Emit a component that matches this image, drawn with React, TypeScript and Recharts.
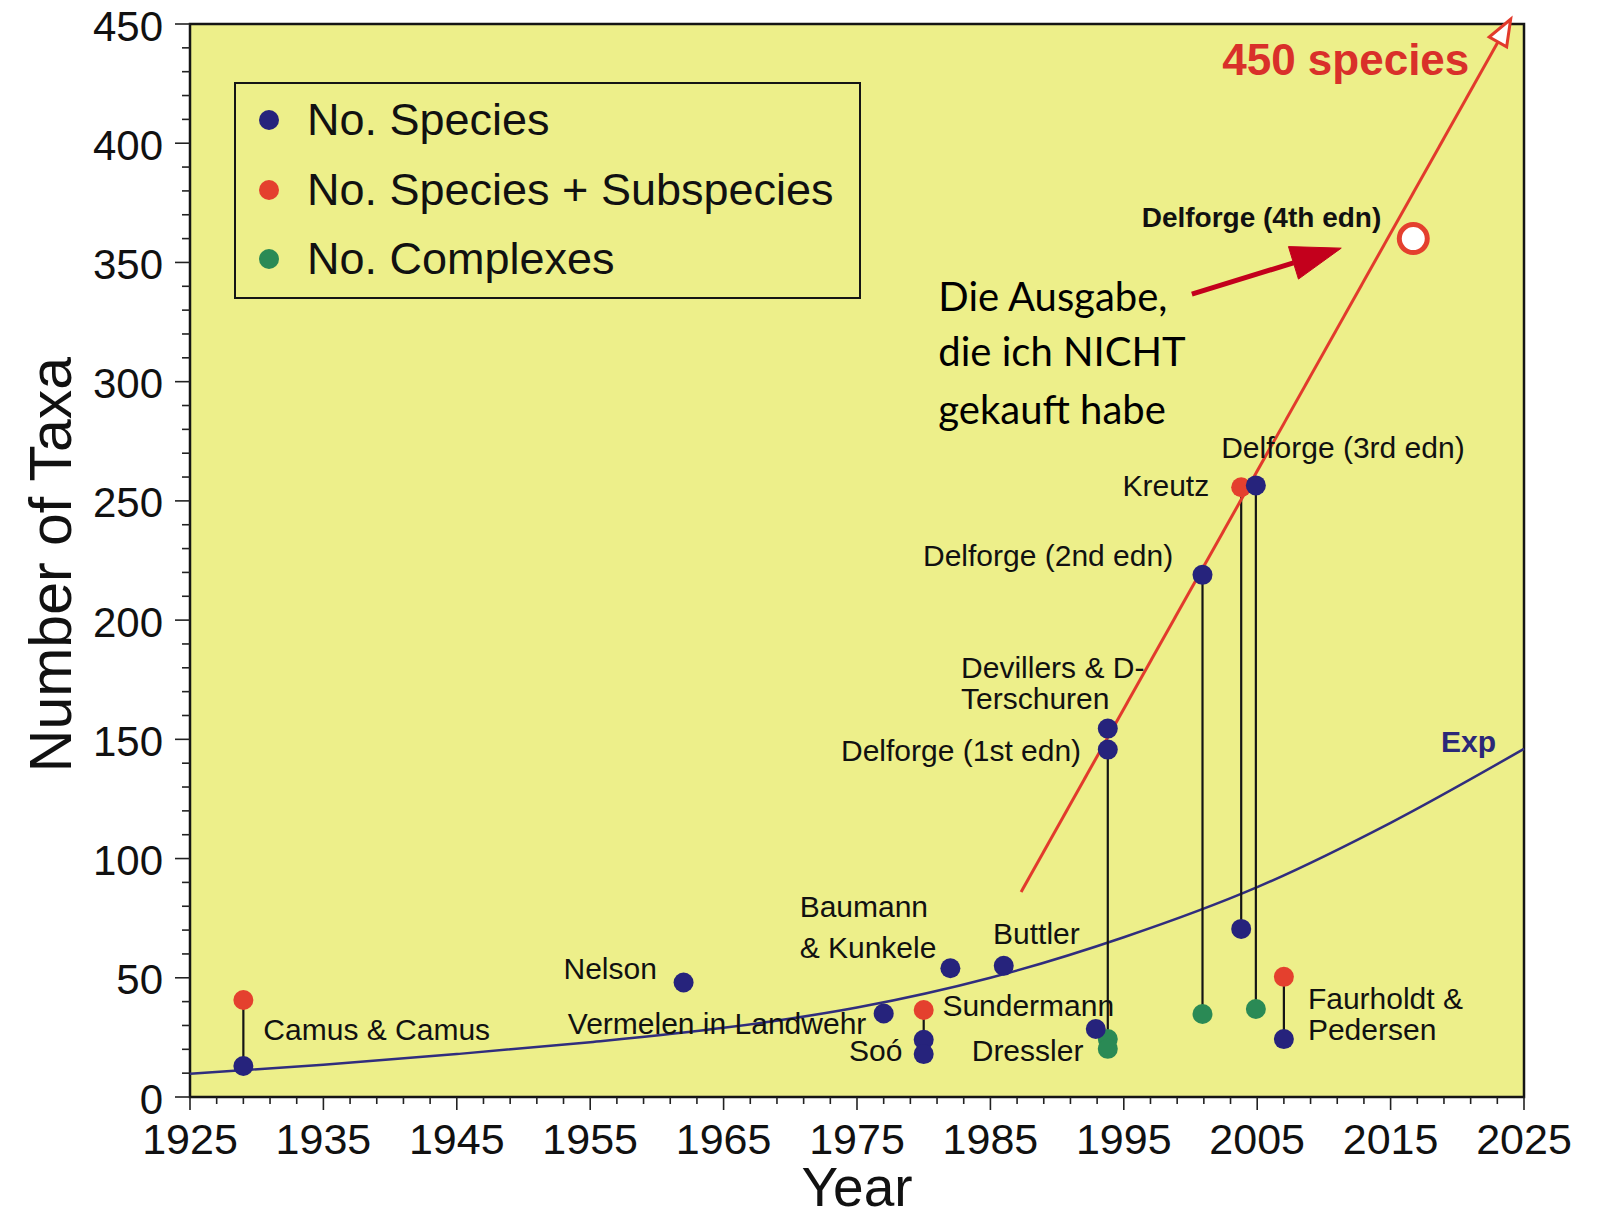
import React from "react";
import {
  ComposedChart,
  XAxis,
  YAxis,
  CartesianGrid,
  Line,
  Scatter,
  ReferenceLine,
  ReferenceArea,
} from "recharts";

type Pt = { year: number; value: number };
type Stem = { year: number; low: number; high: number };
type Note = { text: string; year: number; value: number; anchor: "start" | "end" };

// tick labels
const yearTicks = [1925, 1935, 1945, 1955, 1965, 1975, 1985, 1995, 2005, 2015, 2025];
const taxaTicks = [0, 50, 100, 150, 200, 250, 300, 350, 400, 450];
const yearMinor = Array.from({ length: 51 }, (_, i) => 1925 + i * 2);
const taxaMinor = Array.from({ length: 46 }, (_, i) => i * 10);

// No. Species (blue)
const speciesPts: Pt[] = [
  { year: 1929, value: 13 },
  { year: 1962, value: 48 },
  { year: 1977, value: 35 },
  { year: 1980, value: 24 },
  { year: 1980, value: 18 },
  { year: 1982, value: 54 },
  { year: 1986, value: 55 },
  { year: 1992.9, value: 28.5 },
  { year: 1993.8, value: 145.7 },
  { year: 1993.8, value: 154.5 },
  { year: 2000.9, value: 219 },
  { year: 2003.8, value: 70.5 },
  { year: 2004.9, value: 256.5 },
  { year: 2007, value: 24.3 },
];

// No. Species + Subspecies (red)
const subspeciesPts: Pt[] = [
  { year: 1929, value: 40.7 },
  { year: 1980, value: 36.5 },
  { year: 2003.8, value: 255.7 },
  { year: 2007, value: 50.4 },
];

// No. Complexes (green)
const complexPts: Pt[] = [
  { year: 1993.8, value: 24.3 },
  { year: 1993.8, value: 20.2 },
  { year: 2000.9, value: 34.8 },
  { year: 2004.9, value: 36.9 },
];

const fourthEdition: Pt[] = [{ year: 2016.7, value: 360 }];

// exponential fit
const expCurve: Pt[] = [
  { year: 1925, value: 9.8 },
  { year: 1935, value: 13.5 },
  { year: 1945, value: 18 },
  { year: 1955, value: 23 },
  { year: 1965, value: 29 },
  { year: 1975, value: 37.5 },
  { year: 1985, value: 50 },
  { year: 1995, value: 67 },
  { year: 2005, value: 88 },
  { year: 2015, value: 115 },
  { year: 2025, value: 146 },
];

const trendLine: Pt[] = [
  { year: 1987.3, value: 86 },
  { year: 2024, value: 452 },
];
const noteArrow: Pt[] = [
  { year: 2000.1, value: 336.7 },
  { year: 2011.3, value: 356 },
];

const stems: Stem[] = [
  { year: 1929, low: 13, high: 40.7 },
  { year: 1980, low: 18, high: 36.5 },
  { year: 1993.8, low: 20.2, high: 145.7 },
  { year: 2000.9, low: 34.8, high: 219 },
  { year: 2003.8, low: 70.5, high: 255.7 },
  { year: 2004.9, low: 36.9, high: 256.5 },
  { year: 2007, low: 24.3, high: 50.4 },
];

const pointNotes: Note[] = [
  { text: "Camus & Camus", year: 1930.5, value: 28.1, anchor: "start" },
  { text: "Nelson", year: 1960, value: 53.7, anchor: "end" },
  { text: "Vermelen in Landwehr", year: 1975.7, value: 31, anchor: "end" },
  { text: "Baumann", year: 1970.7, value: 79.8, anchor: "start" },
  { text: "& Kunkele", year: 1970.7, value: 62.5, anchor: "start" },
  { text: "Buttler", year: 1985.2, value: 68.4, anchor: "start" },
  { text: "Sundermann", year: 1981.4, value: 38.2, anchor: "start" },
  { text: "Soó", year: 1978.4, value: 19.3, anchor: "end" },
  { text: "Dressler", year: 1983.6, value: 19.3, anchor: "start" },
  { text: "Delforge (1st edn)", year: 1991.8, value: 145.3, anchor: "end" },
  { text: "Devillers & D-", year: 1982.8, value: 180, anchor: "start" },
  { text: "Terschuren", year: 1982.8, value: 167, anchor: "start" },
  { text: "Delforge (2nd edn)", year: 1998.7, value: 227.3, anchor: "end" },
  { text: "Kreutz", year: 2001.4, value: 256.5, anchor: "end" },
  { text: "Delforge (3rd edn)", year: 2002.3, value: 272.4, anchor: "start" },
  { text: "Faurholdt &", year: 2008.8, value: 41.1, anchor: "start" },
  { text: "Pedersen", year: 2008.8, value: 28.1, anchor: "start" },
];
const editionNote: Note[] = [{ text: "Delforge (4th edn)", year: 2014.3, value: 369, anchor: "end" }];
const targetNote: Note[] = [{ text: "450 species", year: 2020.9, value: 435.3, anchor: "end" }];
const expNote: Note[] = [{ text: "Exp", year: 2022.9, value: 149, anchor: "end" }];
const germanNote: Note[] = [
  { text: "Die Ausgabe,", year: 1981.1, value: 336, anchor: "start" },
  { text: "die ich NICHT", year: 1981.1, value: 312.7, anchor: "start" },
  { text: "gekauft habe", year: 1981.1, value: 288.4, anchor: "start" },
];

const legendItems = [
  { label: "No. Species", color: "#26237c" },
  { label: "No. Species + Subspecies", color: "#e4402e" },
  { label: "No. Complexes", color: "#2a8a55" },
];

const FONT = "'Liberation Sans', Arial, Helvetica, sans-serif";
const BLUE = "#26237c";
const RED = "#e4402e";
const GREEN = "#2a8a55";

const XTick = (p: any) => {
  const v = p.payload.value;
  const major = yearTicks.includes(v);
  return (
    <g>
      <line x1={p.x} x2={p.x} y1={p.y} y2={p.y + (major ? 13 : 7)} stroke="#222" strokeWidth={1.6} />
      {major && (
        <text x={p.x} y={p.y + 42} textAnchor="middle" dominantBaseline="central" fontSize={43} fill="#111" fontFamily={FONT}>
          {v}
        </text>
      )}
    </g>
  );
};

const YTick = (p: any) => {
  const v = p.payload.value;
  const major = taxaTicks.includes(v);
  return (
    <g>
      <line x1={p.x - (major ? 15 : 8)} x2={p.x} y1={p.y} y2={p.y} stroke="#222" strokeWidth={1.6} />
      {major && (
        <text x={p.x - 27} y={p.y + 2} textAnchor="end" dominantBaseline="central" fontSize={42} fill="#111" fontFamily={FONT}>
          {v}
        </text>
      )}
    </g>
  );
};

const dot = (color: string) => (p: any) => <circle cx={p.cx} cy={p.cy} r={10} fill={color} />;

const textShape = (size: number, color: string, weight: string, family: string) => (p: any) => (
  <text
    x={p.cx}
    y={p.cy}
    textAnchor={p.payload.anchor}
    dominantBaseline="central"
    fontSize={size}
    fontWeight={weight}
    fill={color}
    fontFamily={family}
  >
    {p.payload.text}
  </text>
);

const arrowShape = (color: string, width: number, len: number, half: number, open: boolean) => (p: any) => {
  const { x1, y1, x2, y2 } = p;
  const a = Math.atan2(y2 - y1, x2 - x1);
  const bx = x2 - len * Math.cos(a);
  const by = y2 - len * Math.sin(a);
  const px = -Math.sin(a) * half;
  const py = Math.cos(a) * half;
  return (
    <g>
      <line x1={x1} y1={y1} x2={bx} y2={by} stroke={color} strokeWidth={width} />
      <polygon
        points={`${x2},${y2} ${bx + px},${by + py} ${bx - px},${by - py}`}
        fill={open ? "#fff" : color}
        stroke={color}
        strokeWidth={open ? 3 : 1}
      />
    </g>
  );
};

const stemShape = (p: any) => (
  <line x1={p.x1} y1={p.y1} x2={p.x2} y2={p.y2} stroke="#151515" strokeWidth={2.2} />
);

export default function App() {
  return (
    <div style={{ position: "absolute", left: 0, top: 0, width: 1604, height: 1217, background: "#fff" }}>
      <ComposedChart
        width={1604}
        height={1217}
        margin={{ top: 24, right: 80, bottom: 40, left: 40 }}
        style={{ fontFamily: FONT }}
      >
        <CartesianGrid fill="#edef8a" horizontal={false} vertical={false} />
        <XAxis
          type="number"
          dataKey="year"
          domain={[1925, 2025]}
          ticks={yearMinor}
          interval={0}
          tick={<XTick />}
          tickSize={0}
          tickMargin={0}
          tickLine={false}
          axisLine={false}
          height={80}
          label={{ value: "Year", position: "bottom", offset: -10, fontSize: 55, fill: "#111" }}
        />
        <YAxis
          type="number"
          dataKey="value"
          domain={[0, 450]}
          ticks={taxaMinor}
          interval={0}
          tick={<YTick />}
          tickSize={0}
          tickMargin={0}
          tickLine={false}
          axisLine={false}
          width={150}
          label={{
            content: (lp: any) => {
              const vb = lp.viewBox || { x: 40, y: 24, width: 150, height: 1073 };
              const cx = vb.x + 11;
              const cy = vb.y + vb.height / 2 + 4;
              return (
                <text
                  x={cx}
                  y={cy}
                  transform={`rotate(-90 ${cx} ${cy})`}
                  textAnchor="middle"
                  dominantBaseline="central"
                  fontSize={59}
                  fill="#111"
                  fontFamily={FONT}
                >
                  Number of Taxa
                </text>
              );
            },
          }}
        />
        <ReferenceArea x1={1925} x2={2025} y1={0} y2={450} fill="none" stroke="#151515" strokeWidth={2.5} ifOverflow="visible" />
        <Line
          data={expCurve}
          dataKey="value"
          type="monotone"
          stroke="#302d7e"
          strokeWidth={2.5}
          dot={false}
          isAnimationActive={false}
        />
        {stems.map((s, i) => (
          <ReferenceLine
            key={i}
            segment={[
              { x: s.year, y: s.low },
              { x: s.year, y: s.high },
            ]}
            ifOverflow="visible"
            shape={stemShape}
          />
        ))}
        <ReferenceLine
          segment={[
            { x: trendLine[0].year, y: trendLine[0].value },
            { x: trendLine[1].year, y: trendLine[1].value },
          ]}
          ifOverflow="visible"
          shape={arrowShape("#e23a2c", 3, 26, 10, true)}
        />
        <ReferenceLine
          segment={[
            { x: noteArrow[0].year, y: noteArrow[0].value },
            { x: noteArrow[1].year, y: noteArrow[1].value },
          ]}
          ifOverflow="visible"
          shape={arrowShape("#c3001c", 5, 50, 17, false)}
        />
        <Scatter data={subspeciesPts} dataKey="value" shape={dot(RED)} isAnimationActive={false} />
        <Scatter data={complexPts} dataKey="value" shape={dot(GREEN)} isAnimationActive={false} />
        <Scatter data={speciesPts} dataKey="value" shape={dot(BLUE)} isAnimationActive={false} />
        <Scatter
          data={fourthEdition}
          dataKey="value"
          shape={(p: any) => <circle cx={p.cx} cy={p.cy} r={14} fill="#fff" stroke={RED} strokeWidth={5} />}
          isAnimationActive={false}
        />
        <Scatter data={pointNotes} dataKey="value" shape={textShape(30, "#111", "normal", FONT)} isAnimationActive={false} />
        <Scatter data={editionNote} dataKey="value" shape={textShape(28, "#111", "bold", FONT)} isAnimationActive={false} />
        <Scatter data={targetNote} dataKey="value" shape={textShape(44, "#d9302a", "bold", FONT)} isAnimationActive={false} />
        <Scatter data={expNote} dataKey="value" shape={textShape(30, "#2b2878", "bold", FONT)} isAnimationActive={false} />
        <Scatter data={germanNote} dataKey="value" shape={textShape(40, "#000", "normal", "Lato, 'Noto Sans', sans-serif")} isAnimationActive={false} />
      </ComposedChart>
      <div
        style={{
          position: "absolute",
          left: 234,
          top: 82,
          width: 627,
          height: 217,
          border: "2.5px solid #151515",
          boxSizing: "border-box",
          fontFamily: FONT,
          fontSize: 45,
          color: "#111",
        }}
      >
        {legendItems.map((it, i) => (
          <div
            key={it.label}
            style={{ position: "absolute", left: 0, top: 16 + i * 69.5, height: 40, display: "flex", alignItems: "center" }}
          >
            <span
              style={{
                display: "inline-block",
                width: 20,
                height: 20,
                borderRadius: 10,
                background: it.color,
                marginLeft: 23,
                marginRight: 28,
              }}
            />
            <span style={{ whiteSpace: "nowrap", lineHeight: "40px" }}>{it.label}</span>
          </div>
        ))}
      </div>
    </div>
  );
}
